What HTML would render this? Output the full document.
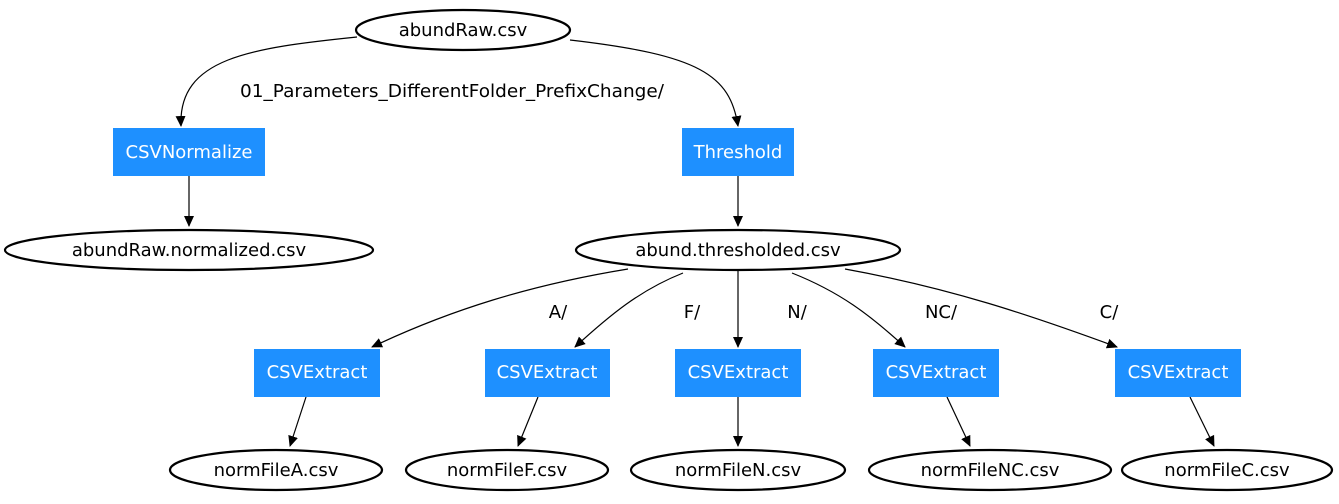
<!DOCTYPE html>
<html><head><meta charset="utf-8"><style>
html,body{margin:0;padding:0;background:#fff;}
svg{display:block;}
text{font-family:"DejaVu Sans","Liberation Sans",sans-serif;font-size:18px;}
</style></head><body>
<svg width="1339" height="504" viewBox="0 0 1339 504" xmlns="http://www.w3.org/2000/svg">
<defs><marker id="a" markerWidth="11" markerHeight="11" refX="10" refY="5.5" orient="auto" markerUnits="userSpaceOnUse"><path d="M0,0.5 L11,5.5 L0,10.5 z" fill="#000"/></marker></defs>
<g fill="none" stroke="#000" stroke-width="1.2">
<path d="M357,37 C250,48 178,58 181,126" marker-end="url(#a)"/>
<path d="M570,40 C700,55 730,75 738,126" marker-end="url(#a)"/>
<path d="M189,176 L189,226" marker-end="url(#a)"/>
<path d="M738,176 L738,226" marker-end="url(#a)"/>
<path d="M628,269 C530,285 450,310 372,347" marker-end="url(#a)"/>
<path d="M683,273 C640,290 610,315 575,347" marker-end="url(#a)"/>
<path d="M738,270 L738,347" marker-end="url(#a)"/>
<path d="M792,273 C840,292 870,315 905,347" marker-end="url(#a)"/>
<path d="M845,269 C950,288 1030,315 1117,347" marker-end="url(#a)"/>
<path d="M306,397 L290,446" marker-end="url(#a)"/>
<path d="M538,397 L518,446" marker-end="url(#a)"/>
<path d="M738,397 L738,446" marker-end="url(#a)"/>
<path d="M947,397 L970,446" marker-end="url(#a)"/>
<path d="M1190,397 L1214,446" marker-end="url(#a)"/>
</g>
<g fill="none" stroke="#000" stroke-width="2.2">
<ellipse cx="463" cy="30" rx="107" ry="20"/>
<ellipse cx="189" cy="250" rx="184" ry="20"/>
<ellipse cx="738" cy="250" rx="162" ry="20"/>
<ellipse cx="276" cy="470" rx="106" ry="20"/>
<ellipse cx="507" cy="470" rx="101" ry="20"/>
<ellipse cx="738" cy="470" rx="107" ry="20"/>
<ellipse cx="990" cy="470" rx="121" ry="20"/>
<ellipse cx="1227" cy="470" rx="105" ry="20"/>
</g>
<g fill="#1e90ff">
<rect x="113" y="128" width="152" height="48"/>
<rect x="682" y="128" width="112" height="48"/>
<rect x="254" y="349" width="126" height="48"/>
<rect x="485" y="349" width="125" height="48"/>
<rect x="675" y="349" width="126" height="48"/>
<rect x="873" y="349" width="126" height="48"/>
<rect x="1115" y="349" width="126" height="48"/>
</g>
<g text-anchor="middle" fill="#000">
<text x="463" y="36">abundRaw.csv</text>
<text x="189" y="256">abundRaw.normalized.csv</text>
<text x="738" y="256">abund.thresholded.csv</text>
<text x="276" y="476">normFileA.csv</text>
<text x="507" y="476">normFileF.csv</text>
<text x="738" y="476">normFileN.csv</text>
<text x="990" y="476">normFileNC.csv</text>
<text x="1227" y="476">normFileC.csv</text>
<text x="452" y="97" textLength="424" lengthAdjust="spacingAndGlyphs">01_Parameters_DifferentFolder_PrefixChange/</text>
<text x="558" y="318">A/</text>
<text x="692" y="318">F/</text>
<text x="797" y="318">N/</text>
<text x="941" y="318">NC/</text>
<text x="1109" y="318">C/</text>
</g>
<g text-anchor="middle" fill="#fff">
<text x="189" y="158">CSVNormalize</text>
<text x="738" y="158">Threshold</text>
<text x="317" y="378">CSVExtract</text>
<text x="547" y="378">CSVExtract</text>
<text x="738" y="378">CSVExtract</text>
<text x="936" y="378">CSVExtract</text>
<text x="1178" y="378">CSVExtract</text>
</g>
</svg>
</body></html>
